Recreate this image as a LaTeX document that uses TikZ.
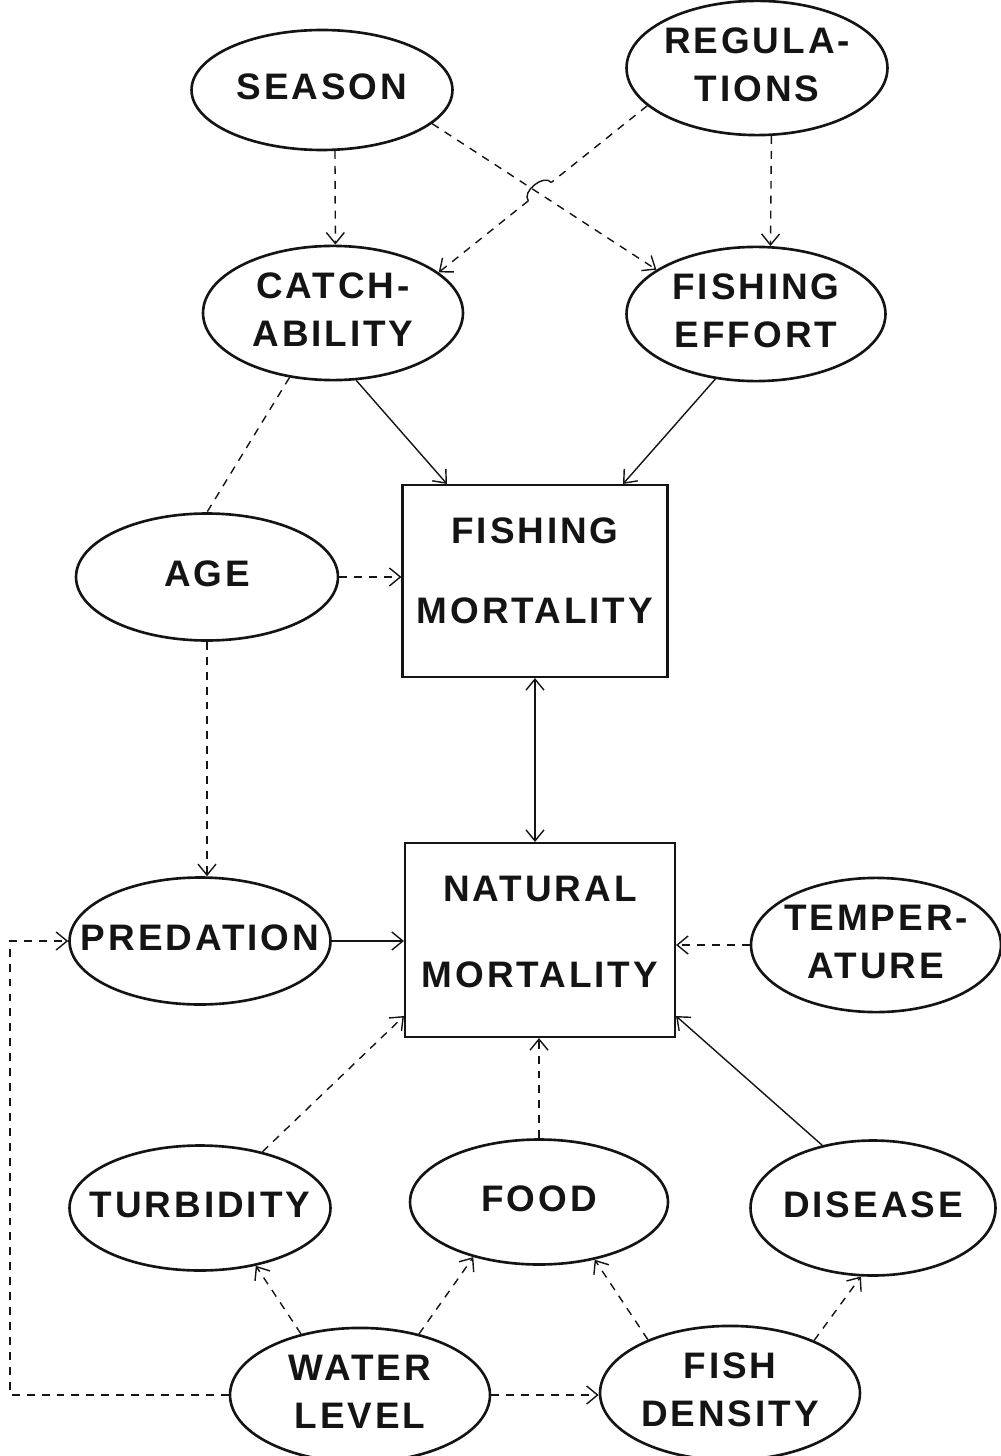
\documentclass[tikz,border=0pt]{standalone}
\usepackage{fontspec}
\newfontfamily\lettrage[LetterSpace=8]{Liberation Sans}
\usepackage{xcolor}
\definecolor{encre}{HTML}{141414}
\usepackage{tikz}
\usetikzlibrary{arrows.meta, calc, shapes.geometric}
\newcommand{\Centre}[1]{\makebox[0pt]{\begin{tabular}{@{}c@{}}#1\end{tabular}}}
\tikzset{
  %% ── Boxes ────────────────────────────────────────────────────────────
  %% Ellipses are the factors, the two boxes are the mortalities; the text
  %% is kept at zero width so that the ellipse keeps its drawn size.
  bulle/.style      = {ellipse, draw=encre, line width=1.5pt, inner sep=0pt,
                       text=encre, font=\lettrage\bfseries\fontsize{21}{27}\selectfont},
  boite/.style      = {rectangle, draw=encre, line width=1.2pt, inner sep=0pt,
                       text=encre, font=\lettrage\bfseries\fontsize{21}{27}\selectfont},
  %%
  %% ── Arrows ───────────────────────────────────────────────────────────
  %% Solid for a direct effect, dashed for an indirect one.
  fleche/.style     = {-{Straight Barb[length=2.2mm, width=3.6mm]}, draw=encre,
                       line width=0.8pt},
  flecheDouble/.style = {{Straight Barb[length=2.2mm, width=3.6mm]}-{Straight Barb[length=2.2mm, width=3.6mm]},
                       draw=encre, line width=0.8pt},
  flecheTiret/.style = {fleche, dash pattern=on 4.5pt off 4pt},
  trait/.style      = {draw=encre, line width=0.8pt},
  traitTiret/.style = {trait, dash pattern=on 4.5pt off 4pt},
}

\begin{document}
\begin{tikzpicture}[x=0.02cm, y=-0.02cm]
\useasboundingbox (0,0) rectangle (1000,1456);

\node[bulle, minimum width=5.22cm, minimum height=2.4cm] (season) at (322, 90)
     {\Centre{SEASON}};
\node[bulle, minimum width=5.22cm, minimum height=2.5cm] (regul) at (757, 68)
     {\Centre{REGULA-\\TIONS}};
\node[bulle, minimum width=5.2cm, minimum height=2.6cm] (catch) at (333, 313)
     {\Centre{CATCH-\\ABILITY}};
\node[bulle, minimum width=5.18cm, minimum height=2.64cm] (effort) at (756, 314)
     {\Centre{FISHING\\EFFORT}};

\node[boite, minimum width=5.3cm, minimum height=3.84cm] (fmort) at (535, 581)
     {\begin{tabular}{@{}c@{}}FISHING\\[19pt]MORTALITY\\[8pt]\end{tabular}};
\node[bulle, minimum width=5.24cm, minimum height=2.54cm] (age) at (207, 577)
     {\Centre{AGE}};

\node[boite, minimum width=5.4cm, minimum height=3.88cm] (nmort) at (540, 940)
     {\begin{tabular}{@{}c@{}}NATURAL\\[22pt]MORTALITY\\[6pt]\end{tabular}};
\node[bulle, minimum width=5.22cm, minimum height=2.54cm] (pred) at (200, 941)
     {\Centre{PREDATION}};
\node[bulle, minimum width=5.0cm, minimum height=2.6cm] (temp) at (876, 945)
     {\Centre{TEMPER-\\ATURE}};

\node[bulle, minimum width=5.22cm, minimum height=2.5cm] (turb) at (200, 1208)
     {\Centre{TURBIDITY}};
\node[bulle, minimum width=5.16cm, minimum height=2.5cm] (food) at (539, 1202)
     {\Centre{FOOD}};
\node[bulle, minimum width=4.9cm, minimum height=2.7cm] (dis) at (873, 1208)
     {\Centre{DISEASE}};

\node[bulle, minimum width=5.2cm, minimum height=2.52cm] (water) at (360, 1395)
     {\Centre{WATER\\LEVEL}};
\node[bulle, minimum width=5.2cm, minimum height=2.52cm] (dens) at (730, 1393)
     {\Centre{FISH\\DENSITY}};

\coordinate (hopA) at ($(regul.199.7)!0.46!(catch.21.9)$);
\coordinate (hopB) at ($(regul.199.7)!0.57!(catch.21.9)$);
\coordinate (loopT) at (10, 941);

\draw[flecheTiret] (season.-78) -- (catch.88);
\draw[flecheTiret] (season.-17.2) -- (effort.156.2);
\draw[traitTiret] (regul.199.7) -- (hopA);
\draw[trait] (hopA) to[bend right=90] (hopB);
\draw[flecheTiret] (hopB) -- (catch.21.9);
\draw[flecheTiret] (regul.-78) -- (effort.78);

\draw[fleche] (catch.-71.3) -- ($(fmort.north)+(-88,0)$);
\draw[fleche] (effort.-122.6) -- ($(fmort.north)+(88,0)$);
\draw[traitTiret] (catch.-124.7) -- (age.north);
\draw[flecheTiret] (age.east) -- (age.east -| fmort.west);
\draw[flecheTiret] (age.south) -- (age.south |- pred.north);
\draw[flecheDouble] (fmort.south) -- (fmort.south |- nmort.north);

\draw[fleche] (pred.east) -- (pred.east -| nmort.west);
\draw[flecheTiret] (temp.west) -- (temp.west -| nmort.east);
\draw[flecheTiret] (turb.42.7) -- ($(nmort.south west)+(0,-22)$);
\draw[flecheTiret] (food.north) -- (food.north |- nmort.south);
\draw[fleche] (dis.129) -- ($(nmort.south east)+(0,-22)$);

\draw[flecheTiret] (water.134) -- (turb.-46.9);
\draw[flecheTiret] (water.46) -- (food.-140);
\draw[flecheTiret] (dens.147) -- (food.-46.5);
\draw[flecheTiret] (dens.32.9) -- (dis.-100);
\draw[flecheTiret] (water.east) -- (water.east -| dens.west);
\draw[flecheTiret] (water.west) -| (loopT) -- (pred.west);

\end{tikzpicture}
\end{document}
